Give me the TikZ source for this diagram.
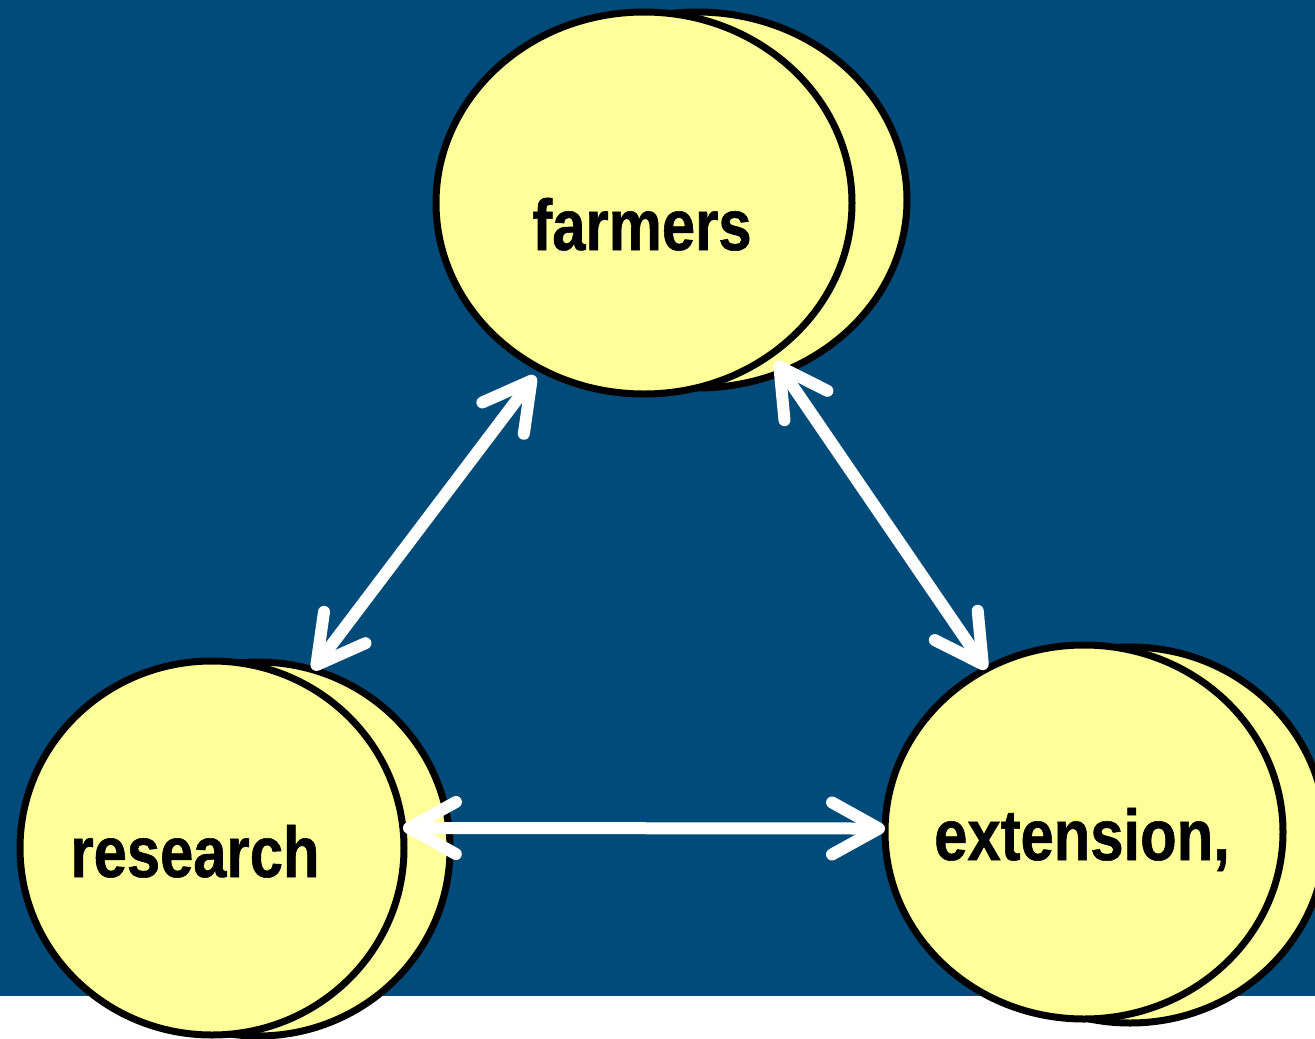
\documentclass[tikz,border=0pt]{standalone}
\usepackage{fontspec}
\setmainfont{Liberation Sans}
\newfontfamily\narrowsans[FakeStretch=0.83, FakeBold=0.8]{Liberation Sans}
\usetikzlibrary{arrows.meta,positioning,shapes.geometric}
\definecolor{slideblue}{RGB}{0,75,122}
\definecolor{paleyellow}{RGB}{255,255,153}

\begin{document}
\begin{tikzpicture}[x=1pt, y=-1pt, >={Straight Barb[length=47pt, width=52pt, round]},
  bubble/.style={draw=black, line width=7pt, fill=paleyellow, ellipse, inner sep=0pt, outer sep=0pt},
  word/.style={font=\narrowsans\bfseries\fontsize{72}{80}\selectfont, inner sep=0pt, anchor=base},
  link/.style={<->, draw=white, line width=12pt, line cap=round}]
\useasboundingbox (0,0) rectangle (1315,1039);
\fill[slideblue] (0,0) rectangle (1315,996);
% back copies
\node[bubble, minimum width=420pt, minimum height=376pt] (farmersback) at (697,200) {};
\node[bubble, minimum width=384pt, minimum height=374pt] (researchback) at (258,849) {};
\node[bubble, minimum width=392pt, minimum height=376pt] (extensionback) at (1130,835) {};
% front circles
\node[bubble, minimum width=416pt, minimum height=382pt] (farmers) at (644,203) {};
\node[bubble, minimum width=384pt, minimum height=374pt] (research) at (212,848) {};
\node[bubble, minimum width=398pt, minimum height=374pt] (extension) at (1084,832) {};
% labels
\node[word] (farmerslabel) at (642,250) {farmers};
\node[word] (researchlabel) at (195,877) {research};
\node[word] (extensionlabel) at (1082,860) {extension,};
% links
\draw[link, shorten >=9pt] (researchback.73) -- (farmers.238);
\draw[link, shorten >=9pt] (extension.121) -- (farmers.310);
\draw[link] (research.6) -- (extension.179);
\end{tikzpicture}
\end{document}
